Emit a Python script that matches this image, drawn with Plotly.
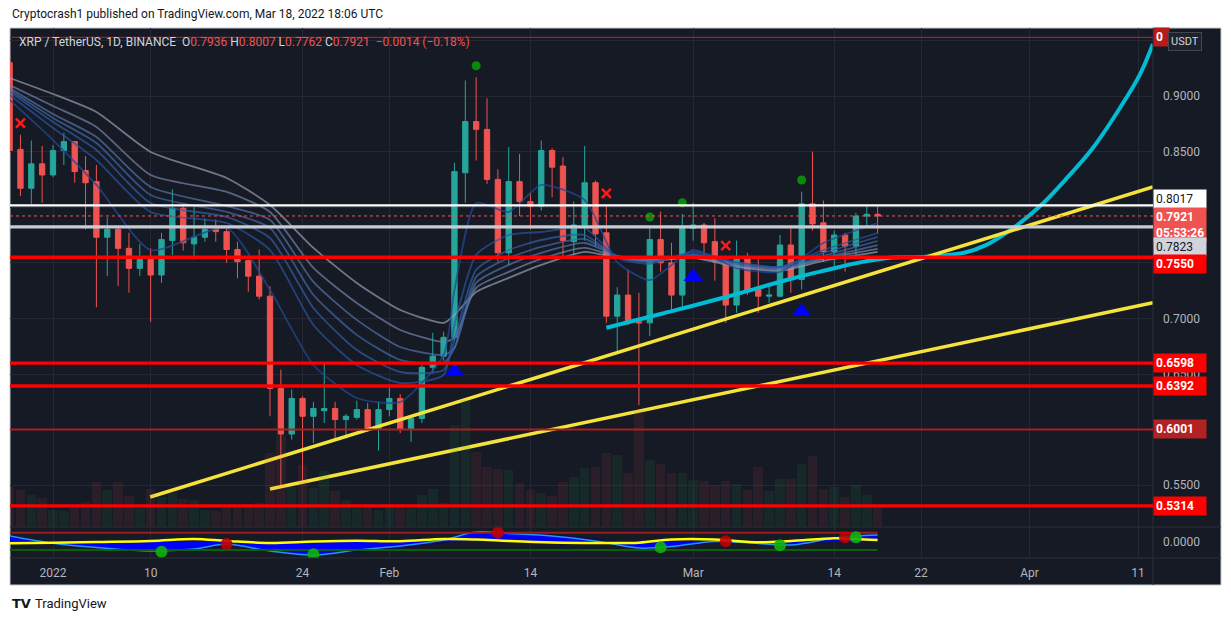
import pandas as pd
import plotly.graph_objects as go

# XRP / TetherUS 1D candles (Dec 28 2021 .. Mar 18 2022)
dates = pd.date_range("2021-12-28", "2022-03-18", freq="D")
opens = [0.930, 0.852, 0.817, 0.839, 0.829, 0.851, 0.859, 0.833, 0.823, 0.773, 0.780, 0.763, 0.745, 0.753,
         0.739, 0.770, 0.799, 0.767, 0.773, 0.780, 0.778, 0.762, 0.752, 0.738, 0.720, 0.637, 0.596, 0.628,
         0.612, 0.617, 0.619, 0.609, 0.611, 0.618, 0.601, 0.618, 0.628, 0.600, 0.610, 0.656, 0.666, 0.683,
         0.831, 0.877, 0.870, 0.825, 0.759, 0.823, 0.805, 0.801, 0.851, 0.837, 0.769, 0.784, 0.822, 0.777,
         0.702, 0.721, 0.697, 0.696, 0.771, 0.750, 0.721, 0.781, 0.784, 0.769, 0.751, 0.712, 0.754, 0.726,
         0.720, 0.720, 0.766, 0.735, 0.803, 0.786, 0.760, 0.775, 0.765, 0.792, 0.7936]
highs = [0.940, 0.865, 0.860, 0.855, 0.856, 0.867, 0.859, 0.846, 0.838, 0.791, 0.783, 0.777, 0.767, 0.763,
         0.777, 0.816, 0.803, 0.800, 0.790, 0.789, 0.783, 0.769, 0.753, 0.762, 0.729, 0.654, 0.636, 0.630,
         0.625, 0.659, 0.625, 0.614, 0.626, 0.624, 0.625, 0.639, 0.632, 0.612, 0.658, 0.687, 0.688, 0.840,
         0.914, 0.917, 0.898, 0.834, 0.854, 0.848, 0.813, 0.860, 0.853, 0.845, 0.805, 0.855, 0.824, 0.802,
         0.728, 0.744, 0.723, 0.781, 0.796, 0.768, 0.794, 0.804, 0.786, 0.790, 0.756, 0.770, 0.759, 0.754,
         0.730, 0.775, 0.781, 0.814, 0.850, 0.806, 0.779, 0.777, 0.795, 0.802, 0.8007]
lows = [0.845, 0.810, 0.803, 0.804, 0.827, 0.838, 0.822, 0.780, 0.710, 0.738, 0.729, 0.723, 0.738, 0.697,
        0.732, 0.757, 0.761, 0.753, 0.769, 0.769, 0.750, 0.736, 0.724, 0.717, 0.612, 0.550, 0.591, 0.553,
        0.588, 0.606, 0.591, 0.592, 0.609, 0.598, 0.581, 0.612, 0.597, 0.589, 0.606, 0.651, 0.662, 0.680,
        0.804, 0.842, 0.821, 0.751, 0.748, 0.792, 0.780, 0.797, 0.809, 0.754, 0.757, 0.770, 0.765, 0.696,
        0.670, 0.694, 0.622, 0.684, 0.742, 0.705, 0.708, 0.770, 0.756, 0.734, 0.696, 0.705, 0.721, 0.705,
        0.714, 0.719, 0.723, 0.726, 0.779, 0.751, 0.747, 0.742, 0.757, 0.783, 0.7762]
closes = [0.851, 0.817, 0.839, 0.829, 0.851, 0.859, 0.832, 0.822, 0.773, 0.780, 0.763, 0.745, 0.753, 0.739,
          0.771, 0.799, 0.768, 0.773, 0.780, 0.778, 0.762, 0.751, 0.738, 0.720, 0.637, 0.596, 0.628, 0.612,
          0.619, 0.619, 0.609, 0.612, 0.618, 0.601, 0.618, 0.628, 0.600, 0.610, 0.656, 0.666, 0.683, 0.832,
          0.877, 0.870, 0.825, 0.759, 0.823, 0.805, 0.801, 0.851, 0.836, 0.770, 0.784, 0.822, 0.776, 0.702,
          0.721, 0.696, 0.696, 0.771, 0.750, 0.721, 0.781, 0.784, 0.768, 0.751, 0.712, 0.754, 0.725, 0.720,
          0.721, 0.766, 0.735, 0.803, 0.785, 0.760, 0.775, 0.765, 0.792, 0.7936, 0.7921]
volumes = [403, 370, 320, 290, 170, 163, 220, 253, 450, 370, 450, 310, 190, 380, 303, 340, 280, 270, 170,
           160, 210, 220, 230, 243, 740, 920, 400, 620, 390, 560, 360, 270, 190, 190, 170, 203, 190, 190,
           320, 380, 240, 1020, 1270, 750, 600, 580, 570, 440, 370, 343, 310, 453, 503, 593, 603, 743, 720,
           540, 1170, 670, 630, 540, 543, 470, 463, 420, 463, 430, 370, 603, 363, 480, 480, 630, 713, 380,
           403, 303, 420, 320, 203]

# EMA ribbon, fastest (dark blue) to slowest (grey)
ribbon_dates = ["2021-12-28", "2022-01-01", "2022-01-05", "2022-01-10", "2022-01-17", "2022-01-21",
                "2022-01-25", "2022-01-29", "2022-02-02", "2022-02-06", "2022-02-07", "2022-02-09",
                "2022-02-12", "2022-02-15", "2022-02-19", "2022-02-22", "2022-02-25", "2022-03-01",
                "2022-03-05", "2022-03-09", "2022-03-13", "2022-03-18"]
ribbon = [
    [0.8964, 0.8604, 0.8200, 0.7615, 0.7813, 0.7255, 0.6581, 0.6284, 0.6248, 0.6671, 0.7255, 0.8038,
     0.7957, 0.8200, 0.8065, 0.7507, 0.7345, 0.7615, 0.7453, 0.7418, 0.7678, 0.7858],
    [0.9009, 0.8713, 0.8425, 0.7957, 0.7858, 0.7615, 0.6941, 0.6581, 0.6419, 0.6491, 0.6941, 0.7571,
     0.7750, 0.7777, 0.7813, 0.7544, 0.7490, 0.7598, 0.7508, 0.7463, 0.7615, 0.7768],
    [0.9036, 0.8767, 0.8515, 0.8038, 0.7912, 0.7723, 0.7094, 0.6716, 0.6518, 0.6536, 0.6806, 0.7436,
     0.7615, 0.7705, 0.7750, 0.7553, 0.7508, 0.7580, 0.7499, 0.7463, 0.7589, 0.7732],
    [0.9054, 0.8803, 0.8578, 0.8110, 0.7957, 0.7813, 0.7211, 0.6852, 0.6627, 0.6600, 0.6734, 0.7373,
     0.7544, 0.7643, 0.7714, 0.7562, 0.7517, 0.7571, 0.7490, 0.7454, 0.7562, 0.7696],
    [0.9072, 0.8838, 0.8632, 0.8182, 0.8011, 0.7885, 0.7328, 0.6987, 0.6743, 0.6671, 0.6734, 0.7319,
     0.7481, 0.7589, 0.7678, 0.7562, 0.7526, 0.7562, 0.7481, 0.7445, 0.7544, 0.7660],
    [0.9099, 0.8910, 0.8722, 0.8290, 0.8137, 0.7957, 0.7454, 0.7139, 0.6896, 0.6788, 0.6824, 0.7274,
     0.7418, 0.7535, 0.7634, 0.7553, 0.7526, 0.7553, 0.7472, 0.7436, 0.7535, 0.7625],
    [0.9162, 0.9018, 0.8856, 0.8497, 0.8263, 0.8020, 0.7634, 0.7319, 0.7076, 0.6960, 0.7031, 0.7238,
     0.7364, 0.7481, 0.7598, 0.7544, 0.7517, 0.7544, 0.7463, 0.7427, 0.7517, 0.7598],
]
ribbon_colors = ["rgba(33,72,150,0.75)", "rgba(40,85,160,0.7)", "rgba(50,95,165,0.7)",
                 "rgba(65,105,168,0.7)", "rgba(85,115,170,0.7)", "rgba(115,132,170,0.7)",
                 "rgba(150,160,180,0.7)"]

# drawings
trend_hi_dates = ["2022-01-09 23:00", "2022-04-12 09:00"]
trend_hi_prices = [0.5394, 0.8182]
trend_lo_dates = ["2022-01-21", "2022-04-12 09:00"]
trend_lo_prices = [0.5466, 0.7141]
curve_dates = ["2022-02-21", "2022-02-26", "2022-03-04 03:00", "2022-03-10 05:00", "2022-03-13 08:00",
               "2022-03-16 09:00", "2022-03-19 03:00", "2022-03-21 22:00", "2022-03-25 21:00",
               "2022-03-28 02:00", "2022-03-30 12:00", "2022-04-01 23:00", "2022-04-04 11:00",
               "2022-04-06 20:00", "2022-04-09 08:00", "2022-04-11 04:00", "2022-04-12 09:00"]
curve_prices = [0.6916, 0.7040, 0.7195, 0.7361, 0.7435, 0.7504, 0.7546, 0.7552, 0.7588, 0.7663, 0.7813,
                0.8008, 0.8263, 0.8532, 0.8892, 0.9192, 0.9468]
levels = [0.9528, 0.8017, 0.7921, 0.7823, 0.7550, 0.6598, 0.6392, 0.6001, 0.5314]

# signals on the price pane
cross_dates = ["2021-12-29", "2022-02-21", "2022-03-04"]
cross_prices = [0.8757, 0.8125, 0.7654]
dot_dates = ["2022-02-09", "2022-02-25", "2022-02-28", "2022-03-11"]
dot_prices = [0.9272, 0.7912, 0.8040, 0.8245]
tri_dates = ["2022-02-07", "2022-03-01", "2022-03-11"]
tri_prices = [0.6521, 0.7375, 0.7060]

# oscillator pane
osc_dates = ["2021-12-28", "2022-01-01", "2022-01-05", "2022-01-10", "2022-01-14", "2022-01-17",
             "2022-01-21", "2022-01-25", "2022-01-29", "2022-02-02", "2022-02-06", "2022-02-09",
             "2022-02-12", "2022-02-16", "2022-02-20", "2022-02-24", "2022-02-27", "2022-03-03",
             "2022-03-07", "2022-03-10", "2022-03-14", "2022-03-16", "2022-03-18"]
wave1 = [6, -1.3, -5.5, -9, -7, -2.3, -9, -13, -8, -4, 2, 10, 8.5, 6, 1, -6, -4.5, 0.5, -1.5, -3, 4, 6, 7]
wave2 = [3, 0, -4, -8, -8, -4, -6, -11, -10, -6, -1, 6, 9, 7, 3, -3, -5, -1, -1, -3, 1, 4, 6]
signal = [-1.3, -0.7, 0, 1, 3, 1, -1, 0.5, 1.3, 0.7, 3, 2.5, 1, -0.5, -1, -0.7, 2.5, 2.5, -0.3, 1, 3.7, 3, 2]
ob_level = 9.3
os_level = -8
osc_dot_dates = ["2022-01-11", "2022-01-17", "2022-01-25", "2022-02-11", "2022-02-26", "2022-03-04",
                 "2022-03-09", "2022-03-15", "2022-03-16"]
osc_dot_values = [-9.7, -2, -12.3, 9.3, -5.3, 0.7, -3.3, 4.7, 4.7]
osc_dot_up = [True, False, True, False, True, False, True, False, True]

tick_dates = ["2022-01-01", "2022-01-10", "2022-01-24", "2022-02-01", "2022-02-14", "2022-03-01",
              "2022-03-14", "2022-03-22", "2022-04-01", "2022-04-11"]
tick_text = ["2022", "10", "24", "Feb", "14", "Mar", "14", "22", "Apr", "11"]
price_ticks = [0.55, 0.60, 0.65, 0.70, 0.75, 0.80, 0.85, 0.90, 0.95]
# the other scale labels sit under the price tags on the original
price_labels_shown = [0.55, 0.65, 0.70, 0.85, 0.90]

BG = "#161a25"
GRID = "#242834"
TXT = "#b2b5be"
FONT = "Roboto"

fig = go.Figure()

vol_colors = ["rgba(34,139,60,0.13)" if c >= o else "rgba(210,60,70,0.11)" for o, c in zip(opens, closes)]
fig.add_trace(go.Bar(x=dates, y=volumes, marker_color=vol_colors, marker_line_width=0,
                     width=0.88 * 86400000, yaxis="y2"))

fig.add_trace(go.Candlestick(x=dates, open=opens, high=highs, low=lows, close=closes,
                             increasing=dict(line=dict(color="#26a69a", width=1), fillcolor="#26a69a"),
                             decreasing=dict(line=dict(color="#ef5350", width=1), fillcolor="#ef5350"),
                             whiskerwidth=0))

for vals, col in zip(ribbon[::-1], ribbon_colors[::-1]):
    fig.add_trace(go.Scatter(x=ribbon_dates, y=vals, mode="lines",
                             line=dict(color=col, width=1.8, shape="spline", smoothing=0.6)))

fig.add_trace(go.Scatter(x=curve_dates, y=curve_prices, mode="lines",
                         line=dict(color="#00bcd4", width=4, shape="spline")))
fig.add_trace(go.Scatter(x=trend_hi_dates, y=trend_hi_prices, mode="lines",
                         line=dict(color="#f5e33b", width=3.5)))
fig.add_trace(go.Scatter(x=trend_lo_dates, y=trend_lo_prices, mode="lines",
                         line=dict(color="#f5e33b", width=3.5)))

fig.add_trace(go.Scatter(x=cross_dates, y=cross_prices, mode="markers",
                         marker=dict(symbol="x-thin", size=9, line=dict(color="#ff1a1a", width=2.5))))
fig.add_trace(go.Scatter(x=dot_dates, y=dot_prices, mode="markers",
                         marker=dict(symbol="circle", size=9, color="#0a8a0a")))
fig.add_trace(go.Scatter(x=tri_dates, y=tri_prices, mode="markers",
                         marker=dict(symbol="triangle-up", size=17, color="#0000ff")))

# oscillator pane
fig.add_trace(go.Scatter(x=osc_dates, y=wave2, mode="lines", fill="tozeroy", yaxis="y3",
                         fillcolor="rgba(12,12,90,0.95)", line=dict(color="rgba(12,12,90,1)", width=1,
                                                                    shape="spline")))
fig.add_trace(go.Scatter(x=osc_dates, y=wave1, mode="lines", fill="tozeroy", yaxis="y3",
                         fillcolor="rgba(0,0,255,0.95)", line=dict(color="#2196f3", width=1.5,
                                                                   shape="spline")))
fig.add_trace(go.Scatter(x=osc_dates, y=signal, mode="lines", yaxis="y3",
                         line=dict(color="#ffff00", width=2.5, shape="spline")))
fig.add_trace(go.Scatter(x=[dates[0], dates[-1]], y=[ob_level, ob_level], mode="lines", yaxis="y3",
                         line=dict(color="#9b1c1c", width=2)))
fig.add_trace(go.Scatter(x=[dates[0], dates[-1]], y=[os_level, os_level], mode="lines", yaxis="y3",
                         line=dict(color="#0b5e0b", width=2)))
fig.add_trace(go.Scatter(x=osc_dot_dates, y=osc_dot_values, mode="markers", yaxis="y3",
                         marker=dict(size=12, color=["#10b010" if u else "#c00000" for u in osc_dot_up],
                                     opacity=0.9)))

# frame and separators (pixel layout of the TradingView canvas)
px_x = lambda px: (px - 10) / 1143
px_y = lambda py: (558 - py) / 530
shapes = [
    dict(type="rect", xref="paper", yref="paper", x0=0, x1=px_x(1221), y0=px_y(585), y1=1,
         fillcolor=BG, line=dict(color="#c3c6cd", width=1), layer="below"),
    dict(type="line", xref="paper", yref="paper", x0=1, x1=1, y0=px_y(585), y1=1,
         line=dict(color="#2a2e39", width=1)),
    dict(type="line", xref="paper", yref="paper", x0=0, x1=px_x(1221), y0=px_y(527), y1=px_y(527),
         line=dict(color="#2a2e39", width=1)),
    dict(type="line", xref="paper", yref="paper", x0=0, x1=px_x(1221), y0=0, y1=0,
         line=dict(color="#2a2e39", width=1)),
]
level_style = {
    0.9528: dict(color="#a31f1f", width=1.2),
    0.8017: dict(color="#ffffff", width=2.2),
    0.7921: dict(color="#ef5350", width=1, dash="dot"),
    0.7823: dict(color="#c8cbd2", width=3.3),
    0.7550: dict(color="#ff0000", width=3.3),
    0.6598: dict(color="#ff0000", width=3.3),
    0.6392: dict(color="#ff0000", width=3.3),
    0.6001: dict(color="#a82020", width=1.8),
    0.5314: dict(color="#ff0000", width=3.3),
}
for lv in levels:
    shapes.append(dict(type="line", xref="paper", yref="y", x0=0, x1=1, y0=lv, y1=lv,
                       line=level_style[lv]))

# price tags on the axis: (background, text colour, bold, pixel shift)
tag_style = {
    0.8017: ("#ffffff", "#131722", False, 6),
    0.7921: ("#ef5350", "#ffffff", True, -9),
    0.7823: ("#d1d4dc", "#131722", False, -20),
    0.7550: ("#ff0000", "#ffffff", True, -6.5),
    0.6598: ("#ff0000", "#ffffff", True, 0),
    0.6392: ("#ff0000", "#ffffff", True, 0),
    0.6001: ("#b22222", "#ffffff", True, 0),
    0.5314: ("#ff0000", "#ffffff", True, 0),
}
annotations = []
for lv in levels:
    if lv not in tag_style:
        continue
    bg, fg, bold, shift = tag_style[lv]
    txt = f"{lv:.4f}"
    if lv == closes[-1]:
        txt = f"{lv:.4f}<br>05:53:26"
    if bold:
        txt = "<b>" + txt.replace("<br>", "</b><br><b>") + "</b>"
    annotations.append(dict(xref="paper", yref="y", x=1, y=lv, xanchor="left", yanchor="middle",
                            yshift=shift, text=txt, showarrow=False, bgcolor=bg, borderpad=2,
                            width=48, align="left", font=dict(family=FONT, size=12, color=fg)))
# the top tag is mostly hidden behind the currency button: only its first digit shows
annotations.append(dict(xref="paper", yref="y", x=1, y=levels[0], xanchor="left", yanchor="middle",
                        text=f"<b>{levels[0]:.4f}"[:4] + "</b>", showarrow=False, bgcolor="#b71c1c",
                        borderpad=2, width=11, align="left",
                        font=dict(family=FONT, size=12, color="#ffffff")))
annotations.append(dict(xref="paper", yref="paper", x=px_x(1168), y=px_y(41.5), xanchor="left",
                        yanchor="middle", text="USDT", showarrow=False, bgcolor="#1e222d",
                        bordercolor="#434651", borderwidth=1, borderpad=2,
                        font=dict(family=FONT, size=11, color="#d1d4dc")))

red = "#ef5350"
legend_txt = (f"XRP / TetherUS, 1D, BINANCE  O<span style='color:{red}'>{opens[-1]:.4f}</span> "
              f"H<span style='color:{red}'>{highs[-1]:.4f}</span> "
              f"L<span style='color:{red}'>{lows[-1]:.4f}</span> "
              f"C<span style='color:{red}'>{closes[-1]:.4f}</span>  "
              f"<span style='color:{red}'>\u22120.0014 (\u22120.18%)</span>")
annotations.append(dict(xref="paper", yref="paper", x=px_x(17), y=px_y(42), xanchor="left",
                        yanchor="middle", text=legend_txt, showarrow=False,
                        font=dict(family=FONT, size=12, color="#d1d4dc")))
annotations.append(dict(xref="paper", yref="paper", x=0, y=px_y(14), xanchor="left", yanchor="middle",
                        text="Cryptocrash1 published on TradingView.com, Mar 18, 2022 18:06 UTC",
                        showarrow=False, font=dict(family=FONT, size=12, color="#131722")))
annotations.append(dict(xref="paper", yref="paper", x=0, y=px_y(603), xanchor="left", yanchor="middle",
                        text="<b>TV</b>", showarrow=False,
                        font=dict(family="DejaVu Sans", size=13, color="#131722")))
annotations.append(dict(xref="paper", yref="paper", x=px_x(33), y=px_y(603), xanchor="left",
                        yanchor="middle", text="TradingView", showarrow=False,
                        font=dict(family=FONT, size=13, color="#131722")))

# the page body has an 8px margin, so the figure is 8px smaller and the margins are shifted by 8px
fig.update_layout(
    width=1223, height=613,
    margin=dict(l=2, r=78, t=20, b=63),
    paper_bgcolor="#ffffff", plot_bgcolor=BG,
    showlegend=False, hovermode=False, bargap=0,
    shapes=shapes, annotations=annotations,
    font=dict(family=FONT, size=12, color=TXT),
    xaxis=dict(type="date", range=["2021-12-28 00:53", "2022-04-12 09:07"], anchor="y3",
               tickvals=tick_dates, ticktext=tick_text, showgrid=True, gridcolor=GRID, gridwidth=1,
               zeroline=False, showline=False, ticks="", ticklabelstandoff=6,
               tickfont=dict(family=FONT, size=12, color=TXT), rangeslider=dict(visible=False)),
    yaxis=dict(domain=[px_y(527), 1], range=[0.51241, 0.96115], side="right", anchor="x",
               tickvals=price_ticks,
               ticktext=[f"{v:.4f}" if v in price_labels_shown else "" for v in price_ticks],
               showgrid=True, gridcolor=GRID, zeroline=False, showline=False, ticks="",
               ticklabelstandoff=9, tickfont=dict(family=FONT, size=12, color=TXT)),
    yaxis2=dict(overlaying="y", range=[0, 4990], visible=False),
    yaxis3=dict(domain=[0, px_y(527)], range=[-16, 15], side="right", anchor="x",
                tickvals=[0], ticktext=["0.0000"], showgrid=False, zeroline=False, showline=False,
                ticks="", ticklabelstandoff=9, tickfont=dict(family=FONT, size=12, color=TXT)),
)

fig.write_html("out.html")
